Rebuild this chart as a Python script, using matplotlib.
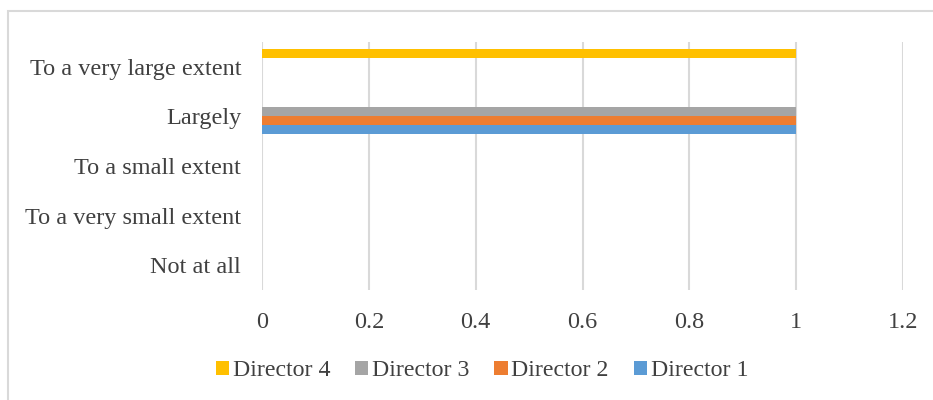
import numpy as np
import matplotlib
matplotlib.use("Agg")
import matplotlib.pyplot as plt
from matplotlib.patches import Rectangle

categories = ["Not at all", "To a very small extent", "To a small extent",
              "Largely", "To a very large extent"]
series = ["Director 1", "Director 2", "Director 3", "Director 4"]
director1 = [0, 0, 0, 1, 0]
director2 = [0, 0, 0, 1, 0]
director3 = [0, 0, 0, 1, 0]
director4 = [0, 0, 0, 0, 1]
colors = ["#5b9bd5", "#ed7d31", "#a5a5a5", "#ffc000"]

plt.rcParams['font.family'] = ['Liberation Serif', 'DejaVu Serif']

fig = plt.figure(figsize=(9.33, 4.0), dpi=100)
ax = fig.add_axes([262 / 933, 1 - 290 / 400, (903 - 262) / 933, (290 - 42) / 400])

# outer chart border
fig.patches.append(Rectangle((8 / 933, -0.1), 1.2, (400 - 11) / 400 + 0.1,
                             transform=fig.transFigure, fill=False,
                             edgecolor="#d9d9d9", linewidth=1.5))

y = np.arange(len(categories))
h = 0.18
values = [director1, director2, director3, director4]
for i, (name, vals) in enumerate(zip(series, values)):
    ax.barh(y + (i - 1.5) * h, vals, height=h, color=colors[i], label=name, zorder=3)

ax.set_xlim(0, 1.2)
ax.set_ylim(-0.5, len(categories) - 0.5)
ax.set_xticks(np.arange(0, 1.21, 0.2))
ax.set_xticklabels(["0", "0.2", "0.4", "0.6", "0.8", "1", "1.2"])
ax.set_yticks(y)
ax.set_yticklabels(categories)
ax.grid(axis="x", color="#d9d9d9", linewidth=1.5, zorder=0)
for s in ax.spines.values():
    s.set_visible(False)
ax.tick_params(axis="both", length=0, labelsize=17.5, labelcolor="#404040")
ax.tick_params(axis="x", pad=16)
ax.tick_params(axis="y", pad=15)

handles, labels = ax.get_legend_handles_labels()
fig.legend(handles[::-1], labels[::-1], loc="center", bbox_to_anchor=(482 / 933, 1 - 371 / 400),
           ncol=4, frameon=False, fontsize=17.2, handlelength=0.55, handleheight=0.55,
           handletextpad=0.15, columnspacing=1.05, labelcolor="#404040")

fig.savefig("out.png", dpi=100)
